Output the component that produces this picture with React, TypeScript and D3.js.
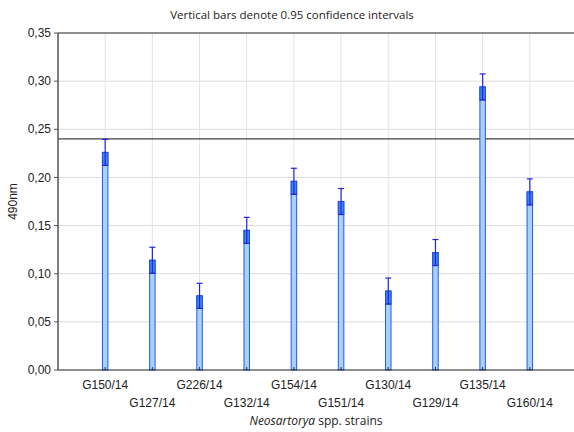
import React from "react";
import * as d3 from "d3";

// Strains and mean absorbance at 490 nm with 0.95 confidence half-widths
const strains = ["G150/14", "G127/14", "G226/14", "G132/14", "G154/14", "G151/14", "G130/14", "G129/14", "G135/14", "G160/14"];
const means = [0.226, 0.114, 0.077, 0.145, 0.196, 0.175, 0.082, 0.122, 0.294, 0.185];
const ciHalf = [0.0135, 0.0135, 0.013, 0.0135, 0.0135, 0.0135, 0.0135, 0.0135, 0.0135, 0.0135];
const yTicks = [0, 0.05, 0.1, 0.15, 0.2, 0.25, 0.3, 0.35];
const referenceLevel = 0.24;

const W = 574;
const H = 432;
const left = 58;
const right = 577;
const top = 33;
const bottom = 370;

export default function App() {
  const x = d3.scaleLinear().domain([0, strains.length + 1]).range([left, right]);
  const y = d3.scaleLinear().domain([0, 0.35]).range([bottom, top]);
  const fmt = (v: number) => d3.format(".2f")(v).replace(".", ",");
  const barW = 5.5;
  const capW = 6;
  const sans = "'Liberation Sans', Arial, sans-serif";

  return (
    <svg width={W} height={H} style={{ position: "absolute", left: 0, top: 0, background: "#fff" }}>
      <rect width={W} height={H} fill="#fff" />
      {/* grid */}
      {yTicks.slice(1, -1).map((t) => (
        <line key={"gy" + t} x1={left} x2={W} y1={y(t)} y2={y(t)} stroke="#dcdcdc" strokeWidth={1} />
      ))}
      {strains.map((s, i) => (
        <line key={"gx" + s} x1={x(i + 1)} x2={x(i + 1)} y1={top} y2={bottom} stroke="#e3e3e3" strokeWidth={1} />
      ))}
      {/* reference line */}
      <line x1={left} x2={W} y1={y(referenceLevel)} y2={y(referenceLevel)} stroke="#111" strokeWidth={1} />
      {/* bars with confidence intervals */}
      {strains.map((s, i) => {
        const cx = x(i + 1);
        const m = means[i];
        const c = ciHalf[i];
        return (
          <g key={s}>
            <rect x={cx - barW / 2} y={y(m)} width={barW} height={y(0) - y(m)} fill="#a9d0f8" stroke="#1f5fe6" strokeWidth={1} />
            <rect x={cx - barW / 2} y={y(m)} width={barW} height={y(m - c) - y(m)} fill="#3f86f2" stroke="#1f4fd8" strokeWidth={1} />
            <line x1={cx} x2={cx} y1={y(m + c)} y2={y(m - c)} stroke="#2323ea" strokeWidth={1.2} />
            <line x1={cx - capW / 2} x2={cx + capW / 2} y1={y(m + c)} y2={y(m + c)} stroke="#2323ea" strokeWidth={1.2} />
            <line x1={cx - capW / 2} x2={cx + capW / 2} y1={y(m - c)} y2={y(m - c)} stroke="#2323ea" strokeWidth={1.2} />
            <line x1={cx} x2={cx} y1={bottom - 3} y2={bottom} stroke="#333" strokeWidth={1} />
          </g>
        );
      })}
      {/* frame */}
      <line x1={left} x2={W} y1={top} y2={top} stroke="#222" strokeWidth={1.2} />
      <line x1={left} x2={W} y1={bottom} y2={bottom} stroke="#222" strokeWidth={1.2} />
      <line x1={left} x2={left} y1={top} y2={bottom} stroke="#555" strokeWidth={1.5} />
      {/* y axis */}
      {yTicks.map((t) => (
        <g key={"yt" + t}>
          <line x1={left - 4} x2={left} y1={y(t)} y2={y(t)} stroke="#555" strokeWidth={1} />
          <text x={left - 7} y={y(t)} dy="0.35em" textAnchor="end" fontFamily={sans} fontSize={12} fill="#222">
            {fmt(t)}
          </text>
        </g>
      ))}
      {/* x labels, staggered in two rows */}
      {strains.map((s, i) => (
        <text key={"xl" + s} x={x(i + 1)} y={i % 2 === 0 ? 389 : 407} textAnchor="middle" fontFamily={sans} fontSize={12} fill="#222">
          {s}
        </text>
      ))}
      {/* titles */}
      <text x={292} y={19} textAnchor="middle" fontFamily="'Open Sans', sans-serif" fontSize={11.5} fill="#222">
        Vertical bars denote 0.95 confidence intervals
      </text>
      <text x={316} y={425} textAnchor="middle" fontFamily="'Open Sans', sans-serif" fontSize={12} fill="#222">
        <tspan fontStyle="italic">Neosartorya</tspan> spp. strains
      </text>
      <text transform={`translate(17,${(top + bottom) / 2}) rotate(-90)`} textAnchor="middle" fontFamily={sans} fontSize={12} fill="#222">
        490nm
      </text>
    </svg>
  );
}
